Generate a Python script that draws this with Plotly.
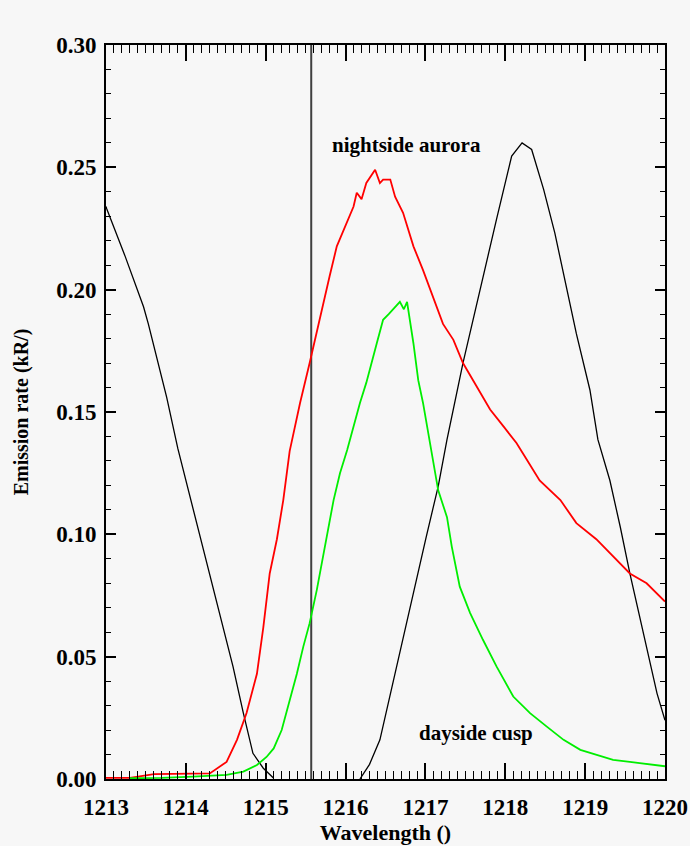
import plotly.graph_objects as go

# Black curve (left wing)
black_left_x = [1213.0, 1213.01, 1213.24, 1213.47, 1213.53, 1213.63, 1213.76, 1213.9, 1214.18, 1214.30,
                1214.47, 1214.59, 1214.72, 1214.84, 1214.97, 1215.10]
black_left_y = [0.234, 0.233, 0.2136, 0.193, 0.186, 0.173, 0.156, 0.135, 0.099, 0.084,
                0.0623, 0.046, 0.0269, 0.0105, 0.0044, 0.0003]

# Black curve (right peak)
black_right_x = [1216.18, 1216.30, 1216.43, 1216.60, 1216.85, 1217.01, 1217.16, 1217.27, 1217.47, 1217.68,
                 1217.89, 1218.08, 1218.21, 1218.33, 1218.48, 1218.62, 1218.73, 1218.89, 1219.06, 1219.16,
                 1219.31, 1219.44, 1219.56, 1219.73, 1219.90, 1220.0]
black_right_y = [0.0, 0.006, 0.016, 0.0405, 0.0773, 0.099, 0.1196, 0.1387, 0.170, 0.200,
                 0.2287, 0.2546, 0.260, 0.2573, 0.241, 0.2232, 0.2068, 0.182, 0.159, 0.1387,
                 0.122, 0.103, 0.084, 0.0596, 0.035, 0.024]

# Red curve (nightside aurora)
red_x = [1213.0, 1213.3, 1213.6, 1213.9, 1214.1, 1214.30, 1214.51, 1214.64, 1214.76, 1214.89,
         1214.97, 1215.05, 1215.14, 1215.22, 1215.30, 1215.43, 1215.55, 1215.68, 1215.80, 1215.89,
         1216.01, 1216.10, 1216.14, 1216.20, 1216.26, 1216.37, 1216.43, 1216.47, 1216.56, 1216.62,
         1216.72, 1216.85, 1216.97, 1217.10, 1217.22, 1217.35, 1217.47, 1217.64, 1217.81, 1217.98,
         1218.14, 1218.27, 1218.43, 1218.69, 1218.89, 1219.14, 1219.35, 1219.56, 1219.77, 1220.0]
red_y = [0.0005, 0.0005, 0.002, 0.002, 0.002, 0.0023, 0.007, 0.016, 0.027, 0.043,
         0.062, 0.084, 0.098, 0.114, 0.134, 0.1537, 0.170, 0.189, 0.2055, 0.2177,
         0.2273, 0.2340, 0.2396, 0.2370, 0.2436, 0.249, 0.2436, 0.245, 0.245, 0.238,
         0.2314, 0.2177, 0.208, 0.197, 0.186, 0.1795, 0.170, 0.1605, 0.151, 0.144,
         0.1373, 0.1305, 0.122, 0.114, 0.1046, 0.098, 0.091, 0.084, 0.080, 0.0725]

# Green curve (dayside cusp)
green_x = [1213.29, 1213.7, 1214.09, 1214.51, 1214.72, 1214.89, 1215.01, 1215.10, 1215.20, 1215.30,
           1215.39, 1215.47, 1215.55, 1215.64, 1215.72, 1215.80, 1215.85, 1215.93, 1216.02, 1216.18,
           1216.26, 1216.39, 1216.47, 1216.54, 1216.60, 1216.68, 1216.73, 1216.77, 1216.85, 1216.91,
           1216.97, 1217.05, 1217.16, 1217.27, 1217.33, 1217.43, 1217.56, 1217.72, 1217.89, 1218.10,
           1218.31, 1218.52, 1218.73, 1218.94, 1219.14, 1219.35, 1219.56, 1219.77, 1220.0]
green_y = [0.0003, 0.0005, 0.001, 0.0017, 0.003, 0.0057, 0.009, 0.0125, 0.020, 0.032,
           0.043, 0.054, 0.0637, 0.0773, 0.091, 0.1046, 0.114, 0.125, 0.1345, 0.1537,
           0.162, 0.178, 0.1877, 0.190, 0.192, 0.195, 0.192, 0.195, 0.178, 0.163,
           0.1537, 0.139, 0.118, 0.107, 0.095, 0.0786, 0.0678, 0.0569, 0.046, 0.0337,
           0.0269, 0.0214, 0.016, 0.0119, 0.0098, 0.0078, 0.007, 0.006, 0.0052]

# Vertical reference line (Lyman alpha)
ref_line_x = [1215.57, 1215.57]
ref_line_y = [0.0, 0.30]

x_ticks = [1213, 1214, 1215, 1216, 1217, 1218, 1219, 1220]
y_ticks = [0.00, 0.05, 0.10, 0.15, 0.20, 0.25, 0.30]
y_tick_text = ["0.00", "0.05", "0.10", "0.15", "0.20", "0.25", "0.30"]

FONT = "Liberation Serif"
BG = "rgb(247,247,247)"

fig = go.Figure()
fig.add_trace(go.Scatter(x=ref_line_x, y=ref_line_y, mode="lines",
                         line=dict(color="#404040", width=2), showlegend=False))
fig.add_trace(go.Scatter(x=black_left_x, y=black_left_y, mode="lines",
                         line=dict(color="black", width=1.3), showlegend=False))
fig.add_trace(go.Scatter(x=black_right_x, y=black_right_y, mode="lines",
                         line=dict(color="black", width=1.3), showlegend=False))
fig.add_trace(go.Scatter(x=red_x, y=red_y, mode="lines",
                         line=dict(color="#ff0000", width=1.8), showlegend=False))
fig.add_trace(go.Scatter(x=green_x, y=green_y, mode="lines",
                         line=dict(color="#00ee00", width=1.8), showlegend=False))

fig.add_annotation(x=1216.76, y=0.259, text="nightside aurora", showarrow=False,
                   font=dict(family=FONT, size=21, color="black", weight="bold"))
fig.add_annotation(x=1217.63, y=0.0188, text="dayside cusp", showarrow=False,
                   font=dict(family=FONT, size=21, color="black", weight="bold"))

fig.update_layout(
    width=690, height=846,
    margin=dict(l=106, r=25, t=45, b=67),
    paper_bgcolor=BG, plot_bgcolor=BG,
    font=dict(family=FONT, color="black"),
)
fig.update_xaxes(
    range=[1213, 1220], tickvals=x_ticks, ticks="inside", ticklen=16, tickwidth=1.5,
    tickcolor="black", showline=True, linecolor="black", linewidth=2, mirror="ticks",
    showgrid=False, zeroline=False, automargin=False, ticklabelstandoff=6,
    tickfont=dict(family=FONT, size=23, color="black", weight="bold"),
    minor=dict(dtick=0.1, ticks="inside", ticklen=8, tickwidth=1.2, tickcolor="black", showgrid=False),
    title=dict(text="Wavelength ()", font=dict(family=FONT, size=22, color="black", weight="bold"),
               standoff=4),
)
fig.update_yaxes(
    range=[0, 0.30], tickvals=y_ticks, ticktext=y_tick_text, ticks="inside", ticklen=10, tickwidth=1.5,
    tickcolor="black", showline=True, linecolor="black", linewidth=2, mirror="ticks",
    showgrid=False, zeroline=False, automargin=False, ticklabelstandoff=3,
    tickfont=dict(family=FONT, size=23, color="black", weight="bold"),
    minor=dict(dtick=0.01, ticks="inside", ticklen=5, tickwidth=1.2, tickcolor="black", showgrid=False),
    title=dict(text="Emission rate (kR/)", font=dict(family=FONT, size=20, color="black", weight="bold"),
               standoff=22),
)

fig.write_html("out.html")
